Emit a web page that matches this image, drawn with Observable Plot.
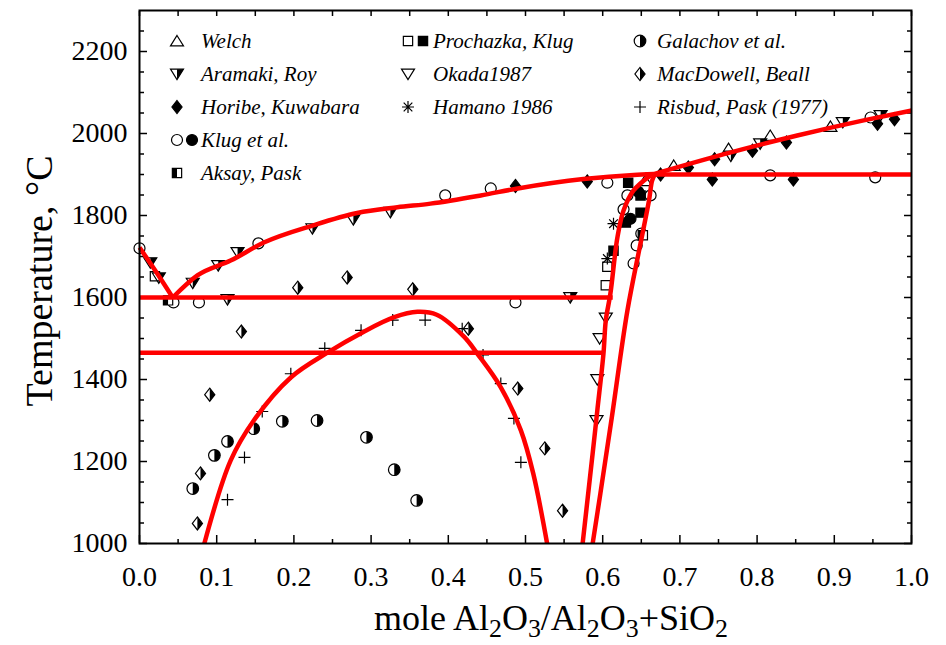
<!DOCTYPE html>
<html><head><meta charset="utf-8">
<script src="https://cdn.jsdelivr.net/npm/d3@7"></script>
<script src="https://cdn.jsdelivr.net/npm/@observablehq/plot@0.6"></script>
<style>
body{margin:0;background:#fff;}
#wrap{position:relative;width:946px;height:645px;font-family:"Liberation Serif","Tinos","Times New Roman","DejaVu Serif",serif;color:#000;}
#xlabel{position:absolute;left:551px;top:600px;transform:translateX(-50%);font-size:36px;line-height:1;white-space:nowrap;}
#xlabel sub{font-size:0.72em;vertical-align:-0.28em;line-height:0;}
#ylabel{position:absolute;left:39px;top:281px;transform:translate(-50%,-50%) rotate(-90deg);font-size:38px;line-height:1;white-space:nowrap;}
.legtext{position:absolute;font-style:italic;font-size:21px;line-height:28px;white-space:nowrap;}
.legsym{position:absolute;overflow:visible;}
svg text{font-family:"Liberation Serif","Tinos","Times New Roman","DejaVu Serif",serif;}
</style></head>
<body><div id="wrap"></div>
<script>
// ---- axis ticks ----
const xMajor = [0,0.1,0.2,0.3,0.4,0.5,0.6,0.7,0.8,0.9,1.0];
const xMinor = [0.05,0.15,0.25,0.35,0.45,0.55,0.65,0.75,0.85,0.95];
const yMajor = [1000,1200,1400,1600,1800,2000,2200];
const yMinor = [1050,1100,1150,1250,1300,1350,1450,1500,1550,1650,1700,1750,1850,1900,1950,2050,2100,2150,2250];

// ---- data series: [mole fraction, temperature] ----
const welch = [[0.655,1885],[0.692,1922],[0.763,1963],[0.817,1995],[0.895,2017]];
const aramaki = [[0.014,1685],[0.025,1648],[0.069,1635],[0.102,1678],[0.127,1710],[0.114,1595],[0.224,1768],[0.277,1790],[0.325,1808],[0.558,1600],[0.766,1945],[0.804,1975],[0.911,2027],[0.96,2044]];
const horibe = [[0.487,1872],[0.58,1883],[0.675,1900],[0.711,1917],[0.745,1937],[0.742,1888],[0.794,1958],[0.838,1978],[0.847,1888],[0.956,2024],[0.978,2035]];
const klugOpen = [[0,1720],[0.044,1588],[0.077,1588],[0.154,1732],[0.396,1849],[0.455,1866],[0.487,1588],[0.606,1880],[0.627,1815],[0.632,1849],[0.640,1683],[0.644,1727],[0.650,1756],[0.662,1849],[0.817,1898],[0.953,1893],[0.947,2039]];
const klugFilled = [[0.636,1792],[0.646,1858]];
const aksay = [[0.037,1593],[0.652,1752]];
const prochazkaOpen = [[0.02,1652],[0.604,1630],[0.606,1675]];
const prochazkaFilled = [[0.614,1714],[0.630,1783],[0.633,1880],[0.649,1849],[0.649,1807]];
const okada = [[0.604,1550],[0.596,1500],[0.593,1400],[0.592,1300]];
const hamano = [[0.614,1780],[0.606,1695]];
const galachov = [[0.069,1134],[0.097,1215],[0.114,1249],[0.148,1280],[0.185,1298],[0.23,1300],[0.294,1259],[0.33,1180],[0.359,1105]];
const macdowell = [[0.075,1049],[0.079,1171],[0.091,1363],[0.132,1517],[0.205,1624],[0.269,1649],[0.354,1620],[0.426,1524],[0.49,1378],[0.525,1232],[0.548,1080]];
const risbud = [[0.114,1107],[0.136,1210],[0.159,1322],[0.196,1414],[0.24,1476],[0.287,1520],[0.328,1545],[0.37,1545],[0.418,1524],[0.445,1460],[0.468,1390],[0.485,1305],[0.494,1198]];

// ---- phase boundaries ----
const liqLeft = [[0,1722],[0.021,1664],[0.043,1600]];
const liqMid = [[0.043,1600],[0.075,1654],[0.118,1690],[0.161,1734],[0.225,1776],[0.282,1806],[0.334,1820],[0.377,1829],[0.442,1849],[0.49,1866],[0.575,1889],[0.64,1899],[0.666,1901]];
const liqRight = [[0.666,1901],[0.766,1954],[0.852,1995],[0.938,2032],[1.0,2056]];
const eutectic1 = [[0,1600],[0.613,1600]];
const eutectic2 = [[0,1465],[0.601,1465]];
const line1900 = [[0.655,1900],[1.0,1900]];
const dome = [[0.084,1000],[0.118,1202],[0.148,1300],[0.196,1405],[0.244,1466],[0.29,1516],[0.33,1552],[0.36,1565],[0.385,1558],[0.42,1505],[0.438,1462],[0.468,1381],[0.494,1276],[0.51,1171],[0.528,1000]];
const mulliteLeft = [[0.574,1000],[0.587,1220],[0.593,1324],[0.601,1463],[0.604,1544],[0.610,1610],[0.619,1746],[0.627,1812],[0.64,1861],[0.662,1898]];
const mulliteRight = [[0.587,1000],[0.597,1122],[0.612,1310],[0.632,1568],[0.649,1732],[0.66,1837],[0.664,1885],[0.668,1902]];

const legendNames = ["Welch","Aramaki, Roy","Horibe, Kuwabara","Klug et al.","Aksay, Pask","Prochazka, Klug","Okada1987","Hamano 1986","Galachov et al.","MacDowell, Beall","Risbud, Pask (1977)"];

// ---- custom symbols ----
const poly = pts => ({draw(ctx, size){const R=Math.sqrt(size/Math.PI); pts.forEach(([a,b],i)=> i?ctx.lineTo(a*R,b*R):ctx.moveTo(a*R,b*R)); ctx.closePath();}});
const S = {
  triUp: poly([[0,-0.85],[1,0.75],[-1,0.75]]),
  triDown: poly([[-1,-0.75],[1,-0.75],[0,0.85]]),
  triDownR: poly([[0,-0.75],[1,-0.75],[0,0.85]]),
  diamond: poly([[0,-1],[0.78,0],[0,1],[-0.78,0]]),
  diamondR: poly([[0,-1],[0.78,0],[0,1]]),
  square: poly([[-0.8,-0.8],[0.8,-0.8],[0.8,0.8],[-0.8,0.8]]),
  squareL: poly([[-0.8,-0.8],[0,-0.8],[0,0.8],[-0.8,0.8]]),
  circle: {draw(ctx,size){const R=Math.sqrt(size/Math.PI); ctx.moveTo(R,0); ctx.arc(0,0,R,0,2*Math.PI);}},
  circleR: {draw(ctx,size){const R=Math.sqrt(size/Math.PI); ctx.moveTo(0,-R); ctx.arc(0,0,R,-Math.PI/2,Math.PI/2); ctx.closePath();}},
  plus: {draw(ctx,size){const R=Math.sqrt(size/Math.PI); ctx.moveTo(-R,0); ctx.lineTo(R,0); ctx.moveTo(0,-R); ctx.lineTo(0,R);}},
  star: {draw(ctx,size){const R=Math.sqrt(size/Math.PI), d=R*0.72; ctx.moveTo(-R,0); ctx.lineTo(R,0); ctx.moveTo(0,-R); ctx.lineTo(0,R); ctx.moveTo(-d,-d); ctx.lineTo(d,d); ctx.moveTo(-d,d); ctx.lineTo(d,-d);}}
};

const open = s => [{sym:S[s], fill:"none", stroke:"black"}];
const filled = s => [{sym:S[s], fill:"black", stroke:"black"}];
const half = (s, h) => [{sym:S[s], fill:"white", stroke:"black"},{sym:S[h], fill:"black", stroke:"none"}];
const M = {
  welch: {layers: open("triUp"), r:6.5},
  aramaki: {layers: half("triDown","triDownR"), r:6.5},
  horibe: {layers: filled("diamond"), r:6.5},
  klugOpen: {layers: open("circle"), r:5.5},
  klugFilled: {layers: filled("circle"), r:5.5},
  aksay: {layers: half("square","squareL"), r:5.8},
  prochazkaOpen: {layers: open("square"), r:5.8},
  prochazkaFilled: {layers: filled("square"), r:5.8},
  okada: {layers: open("triDown"), r:6.5},
  hamano: {layers: [{sym:S.star, fill:"none", stroke:"black"}], r:6},
  galachov: {layers: half("circle","circleR"), r:5.8},
  macdowell: {layers: half("diamond","diamondR"), r:6.5},
  risbud: {layers: [{sym:S.plus, fill:"none", stroke:"black"}], r:6}
};
const series = {welch, aramaki, horibe, klugOpen, klugFilled, aksay, prochazkaOpen, prochazkaFilled, okada, hamano, galachov, macdowell, risbud};

const dotMarks = [];
for (const [k, data] of Object.entries(series)) {
  for (const L of M[k].layers) {
    dotMarks.push(Plot.dot(data, {x: d=>d[0], y: d=>d[1], symbol: L.sym, r: M[k].r, fill: L.fill, stroke: L.stroke, strokeWidth: 1.2}));
  }
}

const red = {x: d=>d[0], y: d=>d[1], stroke:"#ff0000", strokeWidth:4.5, strokeLinejoin:"round", strokeLinecap:"butt"};
const lineMarks = [
  Plot.line(liqLeft, {...red, curve:"monotone-x"}),
  Plot.line(liqMid, {...red, curve:"monotone-x"}),
  Plot.line(liqRight, {...red, curve:"monotone-x"}),
  Plot.line(eutectic1, red),
  Plot.line(eutectic2, red),
  Plot.line(line1900, red),
  Plot.line(dome, {...red, curve:"catmull-rom"}),
  Plot.line(mulliteLeft, {...red, curve:"catmull-rom"}),
  Plot.line(mulliteRight, {...red, curve:"catmull-rom"})
];

const blank = () => "";
const serif = '"Liberation Serif","Tinos","Times New Roman","DejaVu Serif",serif';
const chart = Plot.plot({
  width: 946, height: 645,
  marginLeft: 139, marginRight: 35, marginTop: 10, marginBottom: 102,
  x: {domain: [0, 1]},
  y: {domain: [1000, 2300]},
  style: {fontFamily: serif, background: "white", color: "black", overflow: "visible"},
  marks: [
    Plot.axisX({anchor:"bottom", ticks:xMajor, tickSize:-8, tickPadding:31, tickFormat:d3.format(".1f"), fontSize:28, fontFamily:serif, strokeWidth:1.5, label:null}),
    Plot.axisX({anchor:"bottom", ticks:xMinor, tickSize:-4, tickFormat:blank, strokeWidth:1.5, label:null}),
    Plot.axisX({anchor:"top", ticks:xMajor, tickSize:-5, tickFormat:blank, strokeWidth:1.5, label:null}),
    Plot.axisX({anchor:"top", ticks:xMinor, tickSize:-5, tickFormat:blank, strokeWidth:1.5, label:null}),
    Plot.axisY({anchor:"left", ticks:yMajor, tickSize:-8, tickPadding:20, tickFormat:d3.format("d"), fontSize:28, fontFamily:serif, strokeWidth:1.5, label:null}),
    Plot.axisY({anchor:"left", ticks:yMinor, tickSize:-5, tickFormat:blank, strokeWidth:1.5, label:null}),
    Plot.axisY({anchor:"right", ticks:yMajor, tickSize:-8, tickFormat:blank, strokeWidth:1.5, label:null}),
    Plot.axisY({anchor:"right", ticks:yMinor, tickSize:-5, tickFormat:blank, strokeWidth:1.5, label:null}),
    ...dotMarks,
    ...lineMarks,
    Plot.frame({stroke:"black", strokeWidth:2})
  ]
});

const wrap = document.getElementById("wrap");
wrap.appendChild(chart);

const xl = document.createElement("div");
xl.id = "xlabel";
xl.innerHTML = "mole Al<sub>2</sub>O<sub>3</sub>/Al<sub>2</sub>O<sub>3</sub>+SiO<sub>2</sub>";
wrap.appendChild(xl);
const yl = document.createElement("div");
yl.id = "ylabel";
yl.textContent = "Temperature, \u00B0C";
wrap.appendChild(yl);

const legendMarkers = [["welch"],["aramaki"],["horibe"],["klugOpen","klugFilled"],["aksay"],["prochazkaOpen","prochazkaFilled"],["okada"],["hamano"],["galachov"],["macdowell"],["risbud"]];
const colSym = [177, 408, 640], colSym2 = [192, 423, 655], colText = [201, 433, 657];
const rowY0 = 41, rowStep = 33;
function symPath(sym, r){ const p = d3.path(); sym.draw(p, r*r*Math.PI); return p.toString(); }
legendNames.forEach((name, i) => {
  const col = i < 5 ? 0 : i < 8 ? 1 : 2;
  const row = i < 5 ? i : i < 8 ? i - 5 : i - 8;
  const y = rowY0 + row*rowStep;
  legendMarkers[i].forEach((k, j) => {
    const cx = j === 0 ? colSym[col] : colSym2[col];
    const svg = d3.create("svg").attr("class","legsym").attr("width",20).attr("height",20)
      .style("left", (cx-10)+"px").style("top", (y-10)+"px");
    for (const L of M[k].layers) {
      svg.append("path").attr("transform","translate(10,10)").attr("d", symPath(L.sym, M[k].r))
        .attr("fill", L.fill).attr("stroke", L.stroke).attr("stroke-width", 1.2);
    }
    wrap.appendChild(svg.node());
  });
  const t = document.createElement("div");
  t.className = "legtext";
  t.style.left = colText[col] + "px";
  t.style.top = (y - 14) + "px";
  t.textContent = name;
  wrap.appendChild(t);
});
</script>
</body></html>
